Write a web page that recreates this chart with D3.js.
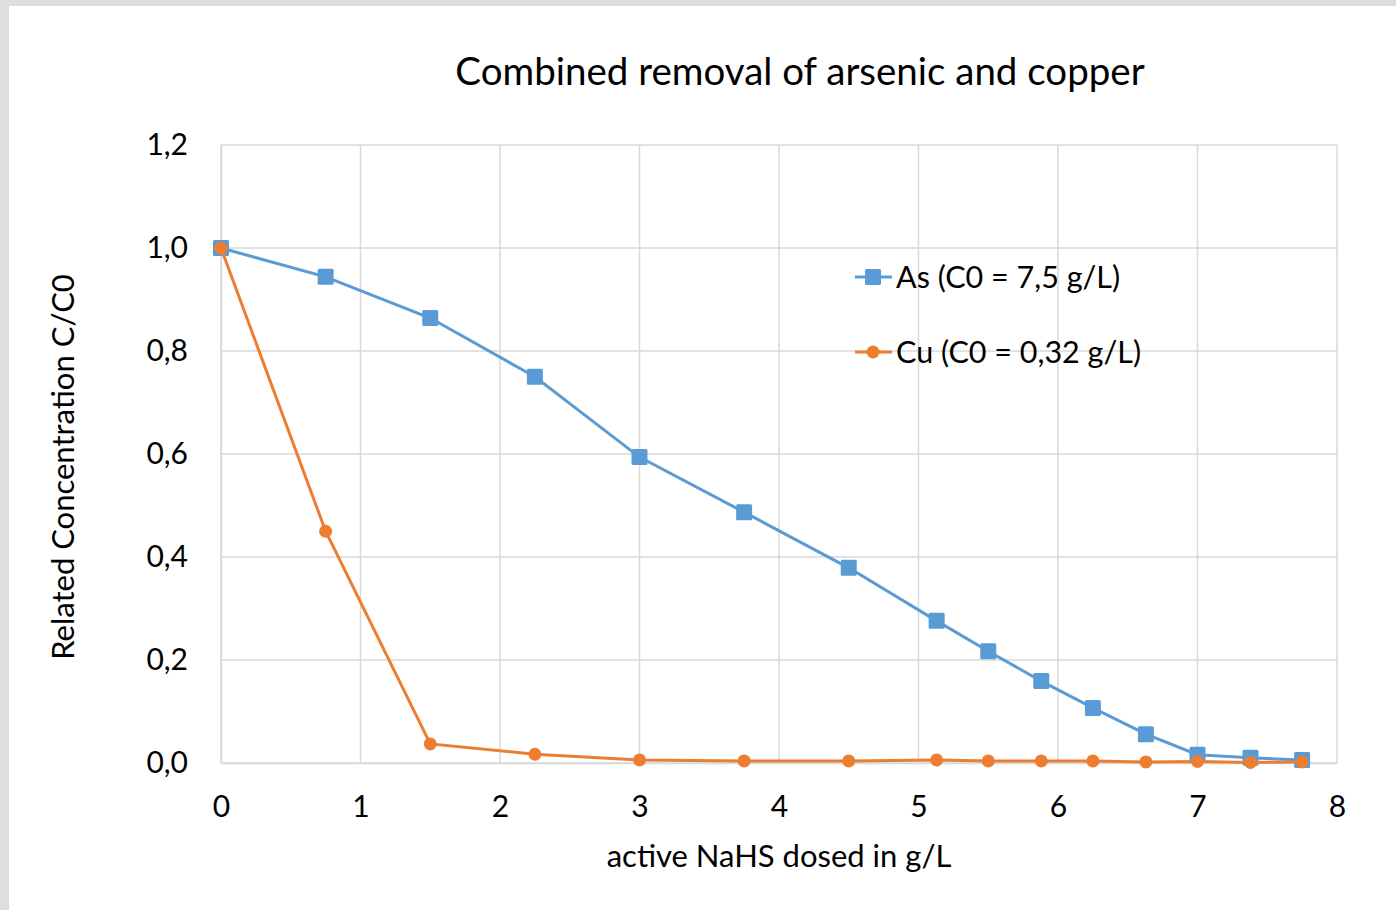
<!DOCTYPE html>
<html><head><meta charset="utf-8">
<script src="https://cdn.jsdelivr.net/npm/d3@7"></script>
<style>
html,body{margin:0;padding:0;background:#dedede;}
svg{display:block;}
text{font-family:Lato,"Open Sans",sans-serif;fill:#000;}
</style></head><body>
<script>
const title = "Combined removal of arsenic and copper";
const xLabel = "active NaHS dosed in g/L";
const yLabel = "Related Concentration C/C0";
const seriesNames = ["As (C0 = 7,5 g/L)", "Cu (C0 = 0,32 g/L)"];
const xValues = [0, 0.75, 1.5, 2.25, 3.0, 3.75, 4.5, 5.13, 5.5, 5.88, 6.25, 6.63, 7.0, 7.38, 7.75];
const asValues = [1.0, 0.944, 0.864, 0.75, 0.594, 0.487, 0.379, 0.276, 0.217, 0.159, 0.107, 0.056, 0.016, 0.010, 0.006];
const cuValues = [1.0, 0.45, 0.037, 0.017, 0.006, 0.004, 0.004, 0.006, 0.004, 0.004, 0.004, 0.002, 0.003, 0.001, 0.002];
const xTicks = [0,1,2,3,4,5,6,7,8];
const yTicks = [0,0.2,0.4,0.6,0.8,1.0,1.2];
const colors = ["#5b9bd5", "#ed7d31"];

const W = 1396, H = 910;
const svg = d3.select("body").append("svg").attr("width", W).attr("height", H);
svg.append("rect").attr("x",9).attr("y",6).attr("width",W-9).attr("height",H-6).attr("fill","#fff");

const x = d3.scaleLinear().domain([0,8]).range([221,1337]);
const y = d3.scaleLinear().domain([0,1.2]).range([763,145]);
const fmt = d => d3.format(".1f")(d).replace(".", ",");

// grid
const g = svg.append("g");
g.selectAll(".hg").data(yTicks).join("line")
  .attr("x1", x(0)).attr("x2", x(8)).attr("y1", d=>y(d)).attr("y2", d=>y(d))
  .attr("stroke","#d9d9d9").attr("stroke-width",1.5);
g.selectAll(".vg").data(xTicks).join("line")
  .attr("y1", y(0)).attr("y2", y(1.2)).attr("x1", d=>x(d)).attr("x2", d=>x(d))
  .attr("stroke","#d9d9d9").attr("stroke-width",1.5);

// axes
const xAxis = svg.append("g").attr("transform",`translate(0,${y(0)})`)
  .call(d3.axisBottom(x).tickValues(xTicks).tickSize(0).tickPadding(33).tickFormat(d=>d));
xAxis.select(".domain").attr("stroke","#d9d9d9").attr("stroke-width",1.5);
xAxis.selectAll("text").style("font-size","30px").attr("fill","#000");
const yAxis = svg.append("g").attr("transform",`translate(${x(0)},0)`)
  .call(d3.axisLeft(y).tickValues(yTicks).tickSize(0).tickPadding(33).tickFormat(fmt));
yAxis.select(".domain").attr("stroke","#d9d9d9").attr("stroke-width",1.5);
yAxis.selectAll("text").style("font-size","30px").attr("fill","#000");

// title & labels
svg.append("text").attr("x",800).attr("y",85).attr("text-anchor","middle")
  .style("font-size","38.5px").text(title);
svg.append("text").attr("x",779).attr("y",867).attr("text-anchor","middle")
  .style("font-size","31px").text(xLabel);
svg.append("text").attr("transform","translate(74,467) rotate(-90)").attr("text-anchor","middle")
  .style("font-size","31px").text(yLabel);

// lines
const line = d3.line().x(d=>x(d[0])).y(d=>y(d[1]));
const asData = xValues.map((v,i)=>[v, asValues[i]]);
const cuData = xValues.map((v,i)=>[v, cuValues[i]]);
svg.append("path").datum(asData).attr("d",line).attr("fill","none").attr("stroke",colors[0]).attr("stroke-width",3);
svg.selectAll(".asm").data(asData).join("rect")
  .attr("x",d=>x(d[0])-8).attr("y",d=>y(d[1])-8).attr("width",16).attr("height",16)
  .attr("rx",1.5).attr("fill",colors[0]);
svg.append("path").datum(cuData).attr("d",line).attr("fill","none").attr("stroke",colors[1]).attr("stroke-width",3);
svg.selectAll(".cum").data(cuData).join("circle")
  .attr("cx",d=>x(d[0])).attr("cy",d=>y(d[1])).attr("r",6.5).attr("fill",colors[1]);

// legend
const leg = svg.append("g");
seriesNames.forEach((name,i)=>{
  const ly = 277 + i*75;
  leg.append("line").attr("x1",855).attr("x2",892).attr("y1",ly).attr("y2",ly).attr("stroke",colors[i]).attr("stroke-width",3);
  if(i===0) leg.append("rect").attr("x",865).attr("y",ly-8).attr("width",16).attr("height",16).attr("rx",1.5).attr("fill",colors[i]);
  else leg.append("circle").attr("cx",873).attr("cy",ly).attr("r",6.5).attr("fill",colors[i]);
  leg.append("text").attr("x",896).attr("y",ly+11).style("font-size","30.5px").text(name);
});
</script>
</body></html>
